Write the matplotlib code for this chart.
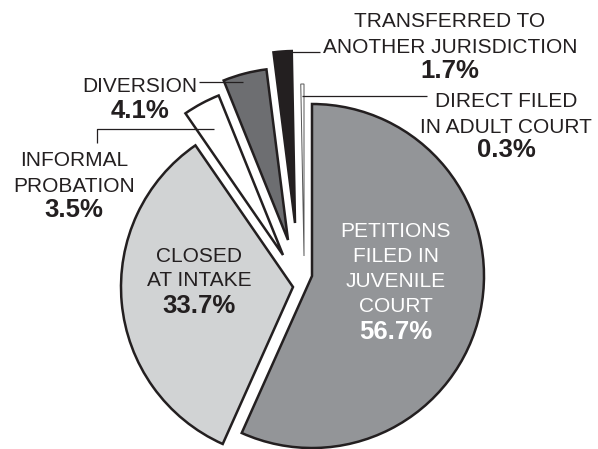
import matplotlib.pyplot as plt

# slice data, clockwise from 12 o'clock
names = [
    ["PETITIONS", "FILED IN", "JUVENILE", "COURT"],
    ["CLOSED", "AT INTAKE"],
    ["INFORMAL", "PROBATION"],
    ["DIVERSION"],
    ["TRANSFERRED TO", "ANOTHER JURISDICTION"],
    ["DIRECT FILED", "IN ADULT COURT"],
]
shares = [56.7, 33.7, 3.5, 4.1, 1.7, 0.3]
colors = ["#939598", "#d1d3d4", "#ffffff", "#6d6e71", "#231f20", "#ffffff"]

# where each wedge's point sits in the image (pixels); the pie is pulled apart
wedge_apex = [(312, 276), (293, 287), (283, 255), (288, 240), (295, 223), (304, 256)]

# label placement in image pixels: (centre x, first baseline y, line step, pct gap)
label_pos = [
    (396, 237, 25, 27),
    (199, 262, 24, 27),
    (74, 166, 26, 25),
    (140, 92, 26, 26),
    (450, 27, 26, 25),
    (506, 107, 26, 24),
]
text_colors = ["white", "#231f20", "#231f20", "#231f20", "#231f20", "#231f20"]

W, H = 598, 449
CX, CY, R = 312, 276, 172
INK = "#231f20"


def px(x, y):
    """Image pixel position -> data units (pie radius = 1)."""
    return (x - CX) / R, (CY - y) / R


plt.rcParams["font.family"] = ["Liberation Sans", "DejaVu Sans"]

fig = plt.figure(figsize=(W / 100, H / 100), dpi=100)
ax = fig.add_axes([0, 0, 1, 1])

wedges, _ = ax.pie(
    shares,
    colors=colors,
    startangle=90,
    counterclock=False,
    radius=1.0,
    wedgeprops=dict(edgecolor=INK, linewidth=1.8, joinstyle="miter"),
)
for w, apex in zip(wedges, wedge_apex):
    w.set_center(px(*apex))
wedges[-1].set_linewidth(0.7)
wedges[-1].set_edgecolor("#555555")

# leader lines
leaders = [
    [(199, 82), (243, 82)],
    [(97, 143), (97, 129), (214, 129)],
    [(292, 52), (320, 52)],
    [(302, 96), (427, 96)],
]
for pts in leaders:
    xs, ys = zip(*[px(*p) for p in pts])
    ax.plot(xs, ys, color=INK, lw=0.9, solid_capstyle="butt")

for lines, share, (lx, ly, step, gap), tc in zip(names, shares, label_pos, text_colors):
    for i, line in enumerate(lines):
        ax.text(*px(lx, ly + i * step), line, ha="center", va="baseline",
                fontsize=15, color=tc)
    pct_y = ly + (len(lines) - 1) * step + gap
    ax.text(*px(lx, pct_y), f"{share:.1f}%", ha="center", va="baseline",
            fontsize=18.5, fontweight="bold", color=tc)

x0, y1 = px(0, 0)
x1, y0 = px(W, H)
ax.set_xlim(x0, x1)
ax.set_ylim(y0, y1)
ax.set_aspect("auto")
ax.axis("off")

fig.savefig("out.png", dpi=100)
